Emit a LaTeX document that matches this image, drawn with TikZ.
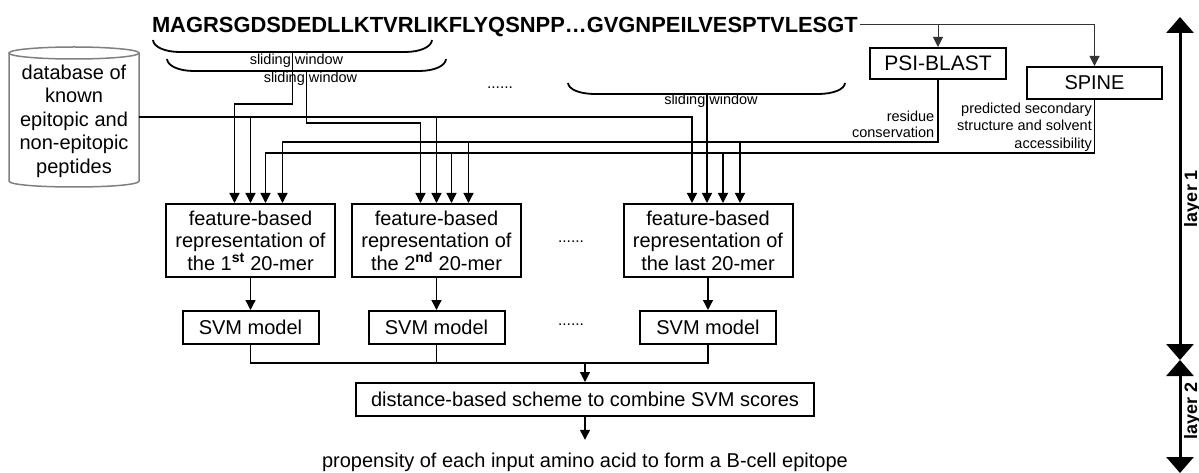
\documentclass[tikz,border=0pt]{standalone}
\usepackage{fontspec}
\setmainfont{Liberation Sans}
\usetikzlibrary{arrows.meta,calc}
\begin{document}
\begin{tikzpicture}[x=1pt,y=-1pt,
  tip/.style={-{Triangle[width=10pt,length=10pt]}},
  wire/.style={line width=1.3pt},
  conn/.style={wire,tip},
  topwire/.style={line width=1pt,draw=black!80},
  box/.style={draw,line width=2pt,inner sep=0pt,align=center,font=\fontsize{20}{22.5}\selectfont},
  fbox/.style={box,minimum width=169pt,minimum height=73pt},
  sbox/.style={box,minimum width=136pt,minimum height=33pt},
  small/.style={inner sep=0pt,font=\fontsize{14.5}{16.5}\selectfont},
  brace/.style={line width=1.8pt},
  cyl/.style={draw=black!50,line width=1.5pt},
  layer/.style={line width=3pt,{Triangle[width=27pt,length=16pt]}-{Triangle[width=27pt,length=16pt]}},
  layerlab/.style={rotate=90,anchor=base,inner sep=0pt,font=\bfseries\fontsize{18}{18}\selectfont},
  dotlab/.style={anchor=base,inner sep=0pt,font=\fontsize{15.5}{16}\selectfont},
]
\fill[white] (0,0) rectangle (1199,473);
\useasboundingbox (0,0) rectangle (1199,473);

% sequence
\node[anchor=base west,inner ysep=0pt,inner xsep=0pt,outer xsep=2pt,text height=16pt,text depth=0pt,
      font=\bfseries\fontsize{21.9}{22}\selectfont] (seq) at (150,33)
  {MAGRSGDSDEDLLKTVRLIKFLYQSNPP…GVGNPEILVESPTVLESGT};

% braces
\draw[brace] (153,40) .. controls (153.5,47) and (165,52) .. (180,52) -- (405,52)
  .. controls (420,52) and (431.5,47) .. (432,40);
\draw[brace] (167,59) .. controls (167.5,66) and (179,71) .. (194,71) -- (419,71)
  .. controls (434,71) and (445.5,66) .. (446,59);
\draw[brace] (568,83) .. controls (568.5,89.5) and (580,94) .. (595,94) -- (818,94)
  .. controls (833,94) and (844.5,89.5) .. (845,83);
\coordinate (br1) at (292.5,52);
\coordinate (br2) at (306.5,71);
\coordinate (br3) at (707,94);
\node[small] (sw1) at (296.5,61) {sliding window};
\node[small] (sw2) at (310.5,79) {sliding window};
\node[small] (sw3) at (711,101) {sliding window};
\node[dotlab] (d1) at (500,89) {......};

% database cylinder
\draw[cyl] (74,53) ellipse [x radius=65,y radius=6];
\draw[cyl] (9,53) -- (9,181) .. controls (9,189) and (139,189) .. (139,181) -- (139,53);
\node[inner sep=0pt,align=center,font=\fontsize{20}{23.5}\selectfont] (db) at (74,121)
  {database of\\known\\epitopic and\\non-epitopic\\peptides};
\coordinate (dbout) at (139,117);

% PSI-BLAST and SPINE
\node[box,minimum width=136pt,minimum height=31pt,font=\fontsize{21}{22}\selectfont] (psi) at (938,63.5) {PSI-BLAST};
\node[box,minimum width=135pt,minimum height=32pt] (spine) at (1094.5,83) {SPINE};
\node[small,align=right,anchor=east,font=\fontsize{14.5}{16}\selectfont] (rc) at (934.5,124.5) {residue\\conservation};
\node[small,align=right,anchor=east,font=\fontsize{14.5}{17.5}\selectfont] (ss) at (1092,127) {predicted secondary\\structure and solvent\\accessibility};

% feature boxes
\node[fbox] (f1) at (250.5,240.5) {feature-based\\representation of\\the 1\textsuperscript{\bfseries st} 20-mer};
\node[fbox] (f2) at (436.5,240.5) {feature-based\\representation of\\the 2\textsuperscript{\bfseries nd} 20-mer};
\node[fbox] (f3) at (708,240.5) {feature-based\\representation of\\the last 20-mer};
\node[dotlab] (d2) at (571,242) {......};

\foreach \b in {f1,f2,f3}{
  \coordinate (\b-a) at ($(\b.north)+(-16,0)$);
  \coordinate (\b-b) at ($(\b.north)+(0,0)$);
  \coordinate (\b-c) at ($(\b.north)+(15,0)$);
  \coordinate (\b-d) at ($(\b.north)+(32,0)$);
}

% SVM boxes
\node[sbox] (svm1) at (250.5,327.5) {SVM model};
\node[sbox] (svm2) at (436.5,327.5) {SVM model};
\node[sbox] (svm3) at (708,327.5) {SVM model};
\node[dotlab] (d3) at (571,325) {......};

\node[box,minimum width=458pt,minimum height=33pt] (dist) at (585,399.5) {distance-based scheme to combine SVM scores};
\node[anchor=base,inner xsep=0pt,inner ysep=12pt,text height=15pt,font=\fontsize{20}{22}\selectfont] (prop) at (585,467)
  {propensity of each input amino acid to form a B-cell epitope};

% top connectors
\draw[topwire,tip] (seq.east) -| (spine.north);
\draw[topwire,tip] (seq.east -| psi.north) -- (psi.north);

% sliding window connectors
\draw[conn] (br1) -- ++(0,52) -| (f1-a);
\draw[conn] (br2) -- ++(0,52) -| (f2-a);
\draw[conn] (br3) -- (br3 |- f3.north);

% database connectors
\draw[conn] (dbout) -| (f3-a);
\draw[conn] (dbout -| f1-b) -- (f1-b);
\draw[conn] (dbout -| f2-b) -- (f2-b);

% PSI-BLAST connectors
\coordinate (psiturn) at ($(psi.south)+(0,62)$);
\draw[conn] (psi.south) -- (psiturn) -| (f1-d);
\draw[conn] (psiturn -| f2-d) -- (f2-d);
\draw[conn] (psiturn -| f3-d) -- (f3-d);

% SPINE connectors
\coordinate (spturn) at ($(spine.south)+(0,53)$);
\draw[conn] (spine.south) -- (spturn) -| (f1-c);
\draw[conn] (spturn -| f2-c) -- (f2-c);
\draw[conn] (spturn -| f3-c) -- (f3-c);

% feature -> SVM
\draw[conn] (f1.south) -- (svm1.north);
\draw[conn] (f2.south) -- (svm2.north);
\draw[conn] (f3.south) -- (svm3.north);

% SVM -> combine
\coordinate (jn) at ($(dist.north)+(0,-19)$);
\draw[wire] (svm1.south) |- (jn);
\draw[wire] (svm3.south) |- (jn);
\draw[wire] (svm2.south) -- (svm2.south |- jn);
\draw[conn] (jn) -- (dist.north);
\draw[conn] (dist.south) -- (prop.north);

% layers
\coordinate (ltop) at (1180,17);
\coordinate (lmid) at (1180,360);
\coordinate (lbot) at (1180,473);
\draw[layer] (ltop) -- (lmid);
\draw[layer] (lmid) -- (lbot);
\node[layerlab] (lay1) at (1197,198.5) {layer 1};
\node[layerlab] (lay2) at (1197,411) {layer 2};
\end{tikzpicture}
\end{document}
